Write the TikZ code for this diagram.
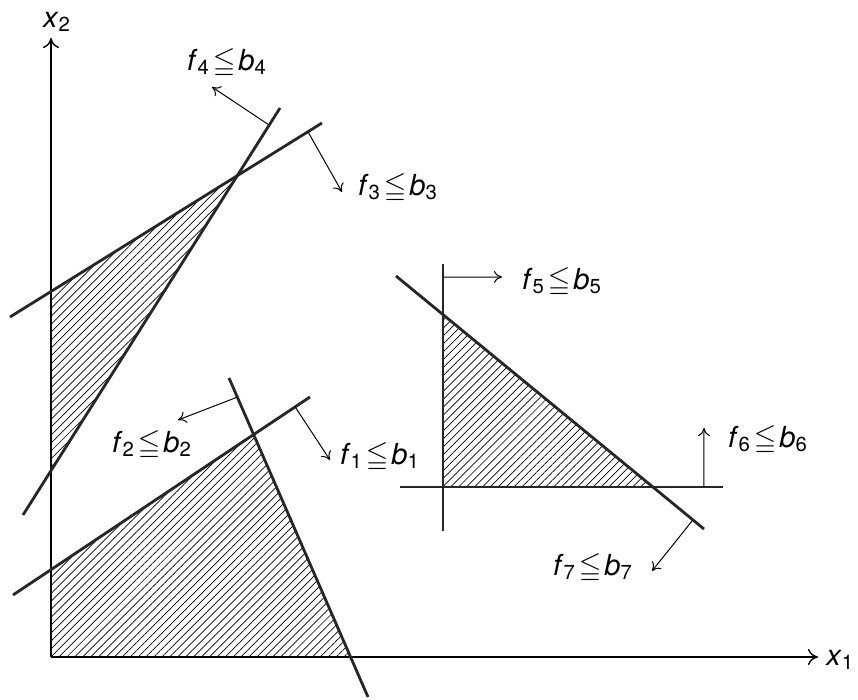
\documentclass[tikz,border=0pt]{standalone}
\usepackage{amssymb}
\usepackage{fontspec}
\setmainfont{TeX Gyre Heros}
\usetikzlibrary{calc,patterns.meta,arrows.meta}
\newcommand{\ineq}[1]{\textit{f}\textsubscript{#1}\kern1.5pt$\leqq$\kern1.5pt\textit{b}\textsubscript{#1}}

\begin{document}
\begin{tikzpicture}
  [x=0.5pt,y=-0.5pt,every node/.style={font=\fontsize{14.5}{17}\selectfont,inner sep=1pt},
   bound/.style={line width=1.4pt,black!85},
   axis/.style={line width=0.7pt,-{To[length=5pt,width=8pt]}},
   normal/.style={line width=0.5pt,-{To[length=4pt,width=6pt]}},
   hatch/.style={pattern={Lines[angle=45,distance=2.8pt,line width=0.35pt]}}]
  \useasboundingbox (0,0) rectangle (858,700);

  % axes
  \coordinate (o) at (51,657);
  \coordinate (xt) at (818,657);
  \coordinate (yt) at (51,38);

  % constraint lines
  \coordinate (a1) at (13,595);   \coordinate (b1) at (310,397);
  \coordinate (a2) at (229,378);  \coordinate (b2) at (368,697);
  \coordinate (a3) at (10,317);   \coordinate (b3) at (322,123);
  \coordinate (a4) at (23,515);   \coordinate (b4) at (280,108);
  \coordinate (a5) at (443,264);  \coordinate (b5) at (443,531);
  \coordinate (a6) at (400,487);  \coordinate (b6) at (723,487);
  \coordinate (a7) at (396,276);  \coordinate (b7) at (704,529);

  % feasible regions
  \path[hatch] (intersection of o--yt and a3--b3) -- (intersection of a3--b3 and a4--b4)
    -- (intersection of o--yt and a4--b4) -- cycle;
  \path[hatch] (o) -- (intersection of o--yt and a1--b1) -- (intersection of a1--b1 and a2--b2)
    -- (intersection of o--xt and a2--b2) -- cycle;
  \path[hatch] (intersection of a5--b5 and a7--b7) -- (intersection of a5--b5 and a6--b6)
    -- (intersection of a6--b6 and a7--b7) -- cycle;

  \draw[axis] (o) -- (xt);
  \draw[axis] (o) -- (yt);
  \node (x1) [anchor=west,inner sep=0pt] at (826,660) {\textit{x}\textsubscript{1}};
  \node (x2) at (57,22) {\textit{x}\textsubscript{2}};

  \foreach \i in {1,...,7}
  \draw[bound] (a\i) -- (b\i);

  % normals
  \coordinate (n1) at (330,460);
  \coordinate (n2) at (178,420);
  \coordinate (n3) at (342,192);
  \coordinate (n4) at (212,87);
  \coordinate (n5) at (502,277);
  \coordinate (n6) at (704,428);
  \coordinate (n7) at (652,571);
  \foreach \i/\t in {1/0.95,2/0.06,3/0.955,4/0.958,5/0.049,6/0.941,7/0.964}
  \draw[normal] ($(a\i)!\t!(b\i)$) -- (n\i);

  \node (c1) at (380,457) {\ineq{1}};
  \node (c2) at (152,445) {\ineq{2}};
  \node (c3) at (398,188) {\ineq{3}};
  \node (c4) at (227,63) {\ineq{4}};
  \node (c5) at (562,282) {\ineq{5}};
  \node (c6) at (768,440) {\ineq{6}};
  \node (c7) at (593,568) {\ineq{7}};
\end{tikzpicture}
\end{document}
